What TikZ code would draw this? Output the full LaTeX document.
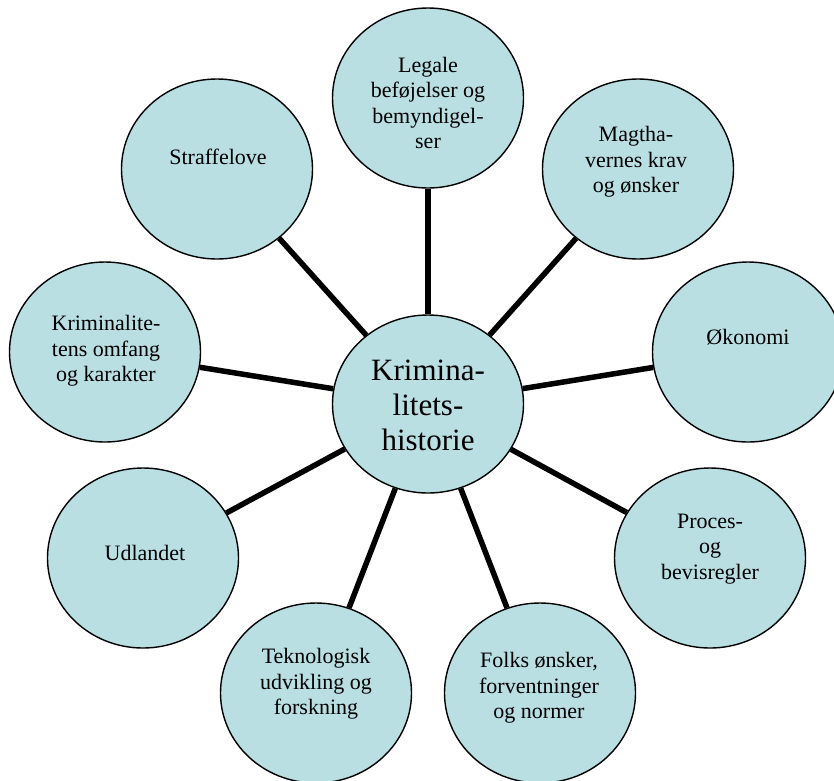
\documentclass[tikz,border=0pt]{standalone}
\usepackage{fontspec}
\setmainfont{Liberation Serif}
\newfontfamily\timesfam{Liberation Serif}
\usetikzlibrary{shapes.geometric}
\definecolor{bubble}{RGB}{185,223,227}
\begin{document}
\begin{tikzpicture}[x=1pt,y=-1pt,
  bub/.style={ellipse,draw=black,line width=1.4pt,fill=bubble,minimum width=191pt,minimum height=180pt,inner sep=0pt},
  hub/.style={bub,minimum height=178pt},
  spoke/.style={line width=5.5pt,black},
  lbl/.style={align=center,font=\timesfam\fontsize{22}{25.5}\selectfont,inner sep=0pt},
  hublbl/.style={align=center,font=\timesfam\fontsize{31}{35}\selectfont,inner sep=0pt}]
\useasboundingbox (0,0) rectangle (834,780);
\clip (0,0) rectangle (834,780);
\node[hub] (c) at (428,404) {};
\node[bub] (legale) at (428,98) {};
\node[bub] (magt) at (638,169) {};
\node[bub] (oko) at (748,352) {};
\node[bub] (proces) at (710,558) {};
\node[bub] (folks) at (540,693) {};
\node[bub] (tekno) at (316,693) {};
\node[bub] (udl) at (143,558) {};
\node[bub] (krim) at (105,352) {};
\node[bub] (straf) at (217,169) {};
\foreach \n in {legale,magt,oko,proces,folks,tekno,udl,krim,straf}
  \draw[spoke] (c) -- (\n);
\node[hublbl] (tc) at (428,405) {Krimina-\\litets-\\historie};
\node[lbl] (tlegale) at (428,103) {Legale\\beføjelser og\\bemyndigel-\\ser};
\node[lbl] (tmagt) at (636,162) {Magtha-\\vernes krav\\og ønsker};
\node[lbl] (toko) at (748,337) {Økonomi};
\node[lbl] (tproces) at (710,549) {Proces-\\og\\bevisregler};
\node[lbl] (tfolks) at (539,688) {Folks ønsker,\\forventninger\\og normer};
\node[lbl] (ttekno) at (316,684) {Teknologisk\\udvikling og\\forskning};
\node[lbl] (tudl) at (145,553) {Udlandet};
\node[lbl] (tkrim) at (106,351) {Kriminalite-\\tens omfang\\og karakter};
\node[lbl] (tstraf) at (218,157) {Straffelove};
\end{tikzpicture}
\end{document}
